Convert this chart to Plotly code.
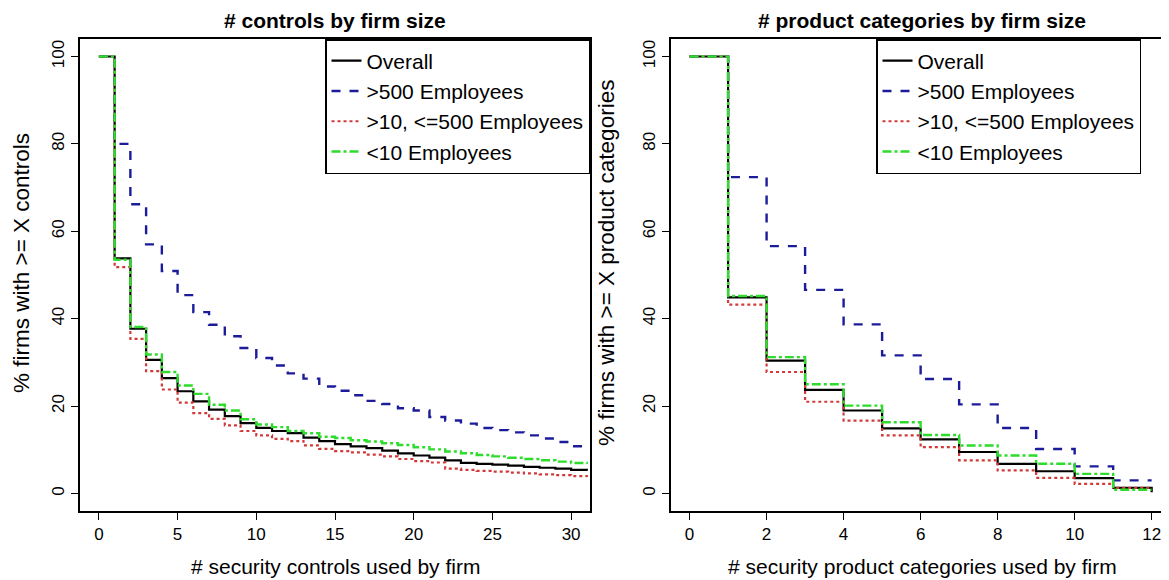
import plotly.graph_objects as go

# ---------------- data ----------------
series_names = ["Overall", ">500 Employees", ">10, <=500 Employees", "<10 Employees"]

x_controls = list(range(0, 32))
controls_overall = [100, 53.8, 37.7, 30.6, 26.4, 23.4, 21.1, 19.2, 17.7, 16.1, 15.0, 14.3,
                    13.8, 12.8, 12.0, 11.3, 10.8, 10.4, 9.8, 9.2, 8.7, 8.2, 7.6, 7.0,
                    6.8, 6.6, 6.4, 6.1, 5.9, 5.7, 5.4, 5.2]
controls_large = [100, 80.0, 66.2, 57.0, 50.9, 45.4, 41.5, 38.6, 36.0, 33.3, 31.0, 29.3,
                  27.5, 26.3, 24.5, 23.5, 22.5, 21.2, 20.5, 19.5, 19.0, 17.5, 16.7, 16.0,
                  15.0, 14.5, 14.0, 13.3, 12.6, 11.8, 10.8, 10.5]
controls_mid = [100, 51.8, 35.4, 28.0, 23.8, 20.8, 18.4, 17.1, 15.6, 14.3, 13.3, 12.5,
                12.0, 11.0, 10.2, 9.7, 9.4, 8.9, 8.5, 7.9, 7.4, 7.1, 5.7, 5.4,
                5.2, 5.0, 4.8, 4.6, 4.4, 4.2, 4.0, 3.8]
controls_small = [100, 53.5, 38.1, 31.8, 27.8, 24.7, 22.8, 20.3, 19.0, 17.0, 15.8, 15.2,
                  14.3, 13.8, 13.0, 12.7, 12.2, 11.9, 11.5, 11.1, 10.6, 10.1, 9.6, 9.2,
                  8.8, 8.5, 8.2, 7.9, 7.6, 7.3, 7.0, 6.8]

x_products = list(range(0, 13))
products_overall = [100, 44.9, 30.4, 23.7, 19.0, 14.9, 12.4, 9.5, 6.8, 5.1, 3.5, 1.3, 0.3]
products_large = [100, 72.4, 56.6, 46.6, 38.7, 31.6, 26.2, 20.4, 15.0, 10.2, 6.2, 3.0, 3.0]
products_mid = [100, 43.2, 27.8, 21.0, 16.7, 13.3, 10.6, 7.6, 5.3, 3.6, 2.2, 1.3, 1.3]
products_small = [100, 45.2, 31.2, 25.0, 20.1, 16.3, 13.4, 11.0, 8.7, 6.8, 4.5, 0.85, 0.85]

controls_ticks = [0, 5, 10, 15, 20, 25, 30]
products_ticks = [0, 2, 4, 6, 8, 10, 12]
pct_ticks = [0, 20, 40, 60, 80, 100]

titles = ["# controls by firm size", "# product categories by firm size"]
x_titles = ["# security controls used by firm", "# security product categories used by firm"]
y_titles = ["% firms with >= X controls", "% firms with >= X product categories"]

# ---------------- styles ----------------
colors = ["#000000", "#1c1c9a", "#d23a3a", "#2ddc2d"]
dashes = ["solid", "dash", "dot", "dashdot"]
widths = [2.2, 2.4, 2.2, 2.4]
FONT = "Liberation Sans, Arial, sans-serif"

# the page body adds an 8px margin, so the figure is 8px smaller than the window
OFF = 8
W, H = 1169 - OFF, 580 - OFF
ML = 80 - OFF          # left frame at page x=80
MT = 39 - OFF          # top frame at page y=39
MB = H - (511 - OFF)   # bottom frame at page y=511
PW = W - ML
PH = H - MT - MB


def px_x(px):
    """page pixel x -> paper x"""
    return (px - OFF - ML) / PW


def px_y(py):
    """page pixel y -> paper y"""
    return (H - MB - (py - OFF)) / PH


fig = go.Figure()

left_sets = [controls_overall, controls_large, controls_mid, controls_small]
right_sets = [products_overall, products_large, products_mid, products_small]

for i, ys in enumerate(left_sets):
    fig.add_trace(go.Scatter(
        x=x_controls, y=ys, mode="lines", name=series_names[i],
        line=dict(color=colors[i], dash=dashes[i], width=widths[i], shape="hv"),
        xaxis="x", yaxis="y", legend="legend"))
for i, ys in enumerate(right_sets):
    fig.add_trace(go.Scatter(
        x=x_products, y=ys, mode="lines", name=series_names[i],
        line=dict(color=colors[i], dash=dashes[i], width=widths[i], shape="hv"),
        xaxis="x2", yaxis="y2", legend="legend2"))

left_dom = [0, px_x(590)]
right_dom = [px_x(670.7), 1.0]

axis_common = dict(
    showline=True, linecolor="black", linewidth=1.5,
    ticks="outside", ticklen=7, tickwidth=1.2, tickcolor="black",
    showgrid=False, zeroline=False, automargin=False,
    tickfont=dict(family=FONT, size=17, color="black"),
)

legend_common = dict(
    y=1, yanchor="top", bgcolor="white", bordercolor="black", borderwidth=1.5,
    font=dict(family=FONT, size=21, color="black"), tracegroupgap=0,
)

fig.update_layout(
    width=W, height=H,
    margin=dict(l=ML, r=0, t=MT, b=MB, autoexpand=False),
    plot_bgcolor="white", paper_bgcolor="white",
    font=dict(family=FONT, color="black"),
    xaxis=dict(domain=left_dom, range=[-1.2, 31.2], tickvals=controls_ticks,
               mirror=True, anchor="y", **axis_common),
    yaxis=dict(domain=[0, 1], range=[-4, 104], tickvals=pct_ticks, tickangle=-90,
               mirror=True, anchor="x", **axis_common),
    xaxis2=dict(domain=right_dom, range=[-0.49, 12.45], tickvals=products_ticks,
                mirror=True, anchor="y2", ticklabeloverflow="allow", **axis_common),
    yaxis2=dict(domain=[0, 1], range=[-4, 104], tickvals=pct_ticks, tickangle=-90,
                mirror=False, anchor="x2", **axis_common),
    legend=dict(x=px_x(590), xanchor="right", **legend_common),
    legend2=dict(x=px_x(876), xanchor="left", **legend_common),
    showlegend=True,
)

# plot titles
for txt, cx in zip(titles, [335, 922]):
    fig.add_annotation(text="<b>" + txt + "</b>", x=px_x(cx), y=px_y(20),
                       xref="paper", yref="paper", xanchor="center", yanchor="middle",
                       showarrow=False, font=dict(family=FONT, size=21, color="black"))
# x-axis titles
for txt, cx in zip(x_titles, [335, 922]):
    fig.add_annotation(text=txt, x=px_x(cx), y=px_y(566),
                       xref="paper", yref="paper", xanchor="center", yanchor="middle",
                       showarrow=False, font=dict(family=FONT, size=21, color="black"))
# y-axis titles
for txt, cx in zip(y_titles, [22, 607]):
    fig.add_annotation(text=txt, x=px_x(cx), y=px_y(263), textangle=-90,
                       xref="paper", yref="paper", xanchor="center", yanchor="middle",
                       showarrow=False, font=dict(family=FONT, size=22.5, color="black"))

fig.write_html("out.html")
